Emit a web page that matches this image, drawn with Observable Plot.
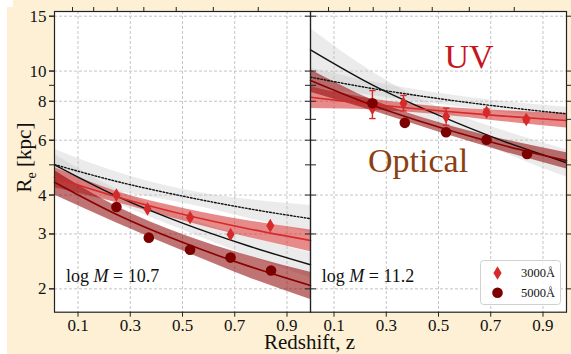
<!DOCTYPE html>
<html><head><meta charset="utf-8">
<script src="https://cdn.jsdelivr.net/npm/d3@7"></script>
<script src="https://cdn.jsdelivr.net/npm/@observablehq/plot@0.6"></script>
<style>
html,body{margin:0;padding:0;background:#fff;}
#wrap{position:relative;width:571px;height:354px;overflow:hidden;}
#bg{position:absolute;left:7px;top:0;width:564px;height:354px;background:#fdf0d4;}
#notch{position:absolute;left:7px;top:0;width:6px;height:7px;background:#fff;}
#chart{position:absolute;left:0;top:0;}
</style></head><body>
<div id="wrap"><div id="bg"></div><div id="notch"></div><div id="chart"></div></div>
<script>
// ---- categories / ticks ----
const panels = ["10.7", "11.2"];
const xTicks = [0.1, 0.3, 0.5, 0.7, 0.9];
const yTicks = [2, 3, 4, 6, 8, 10, 15];
const yMinorTicks = [5, 7, 9];
const lookbackTicksZ = [0.079, 0.160, 0.250, 0.352, 0.476, 0.618, 0.790];
const legendLabels = ["3000Å", "5000Å"];

// ---- measured points ----
const uvZ = [0.247, 0.366, 0.529, 0.684, 0.836];
const optZ = [0.247, 0.371, 0.529, 0.684, 0.839];
const uvLow = [4.00, 3.61, 3.39, 2.99, 3.19];
const optLow = [3.66, 2.92, 2.67, 2.52, 2.29];
const uvHigh = [7.60, 7.88, 7.15, 7.38, 6.99];
const uvHighErrLo = [7.04, 7.45, 6.70, 7.22, 6.86];
const uvHighErrHi = [8.66, 8.35, 7.60, 7.55, 7.12];
const optHigh = [7.88, 6.82, 6.36, 6.02, 5.42];

// ---- fitted curves (sampled) ----
const fitZ = [0.01, 0.25, 0.5, 0.75, 0.99];
// log M = 10.7
const solidLow = [5.00, 3.96, 3.25, 2.75, 2.39];
const solidLowLo = [4.60, 3.76, 3.09, 2.56, 2.17];
const solidLowHi = [5.40, 4.16, 3.41, 2.94, 2.61];
const dottedLow = [5.01, 4.42, 3.97, 3.62, 3.36];
const dottedLowLo = [4.41, 4.11, 3.77, 3.37, 3.02];
const dottedLowHi = [5.61, 4.73, 4.17, 3.87, 3.70];
const uvFitLow = [4.56, 3.94, 3.47, 3.12, 2.86];
const uvFitLowLo = [4.22, 3.78, 3.31, 2.93, 2.63];
const uvFitLowHi = [4.90, 4.10, 3.63, 3.31, 3.09];
const optFitLow = [4.40, 3.46, 2.82, 2.37, 2.05];
const optFitLowLo = [4.00, 3.25, 2.65, 2.18, 1.85];
const optFitLowHi = [4.80, 3.67, 2.99, 2.56, 2.26];
// log M = 11.2
const solidHigh = [11.7, 9.00, 7.22, 5.95, 5.08];
const solidHighLo = [9.9, 8.10, 6.79, 5.47, 4.57];
const solidHighHi = [13.7, 9.90, 7.65, 6.43, 5.59];
const dottedHigh = [9.56, 8.78, 8.16, 7.67, 7.29];
const dottedHighLo = [8.89, 8.34, 7.83, 7.36, 6.93];
const dottedHighHi = [10.23, 9.22, 8.49, 7.98, 7.65];
const uvFitHigh = [8.24, 7.81, 7.46, 7.17, 6.94];
const uvFitHighLo = [7.58, 7.50, 7.24, 6.88, 6.56];
const uvFitHighHi = [8.90, 8.12, 7.68, 7.46, 7.32];
const optFitHigh = [9.33, 7.75, 6.61, 5.77, 5.16];
const optFitHighLo = [8.55, 7.44, 6.38, 5.51, 4.85];
const optFitHighHi = [10.10, 8.06, 6.84, 6.03, 5.47];

// ---- build tables ----
const fitRows = (panel, series, mid, lo, hi) =>
  fitZ.map((z, i) => ({panel, series, z, mid: mid[i], lo: lo[i], hi: hi[i]}));
const solidRows = [...fitRows(panels[0], "solid", solidLow, solidLowLo, solidLowHi),
                   ...fitRows(panels[1], "solid", solidHigh, solidHighLo, solidHighHi)];
const dottedRows = [...fitRows(panels[0], "dotted", dottedLow, dottedLowLo, dottedLowHi),
                    ...fitRows(panels[1], "dotted", dottedHigh, dottedHighLo, dottedHighHi)];
const uvFitRows = [...fitRows(panels[0], "uv", uvFitLow, uvFitLowLo, uvFitLowHi),
                   ...fitRows(panels[1], "uv", uvFitHigh, uvFitHighLo, uvFitHighHi)];
const optFitRows = [...fitRows(panels[0], "opt", optFitLow, optFitLowLo, optFitLowHi),
                    ...fitRows(panels[1], "opt", optFitHigh, optFitHighLo, optFitHighHi)];
const greyRows = [...solidRows, ...dottedRows];

const uvPts = [...uvZ.map((z, i) => ({panel: panels[0], z, v: uvLow[i], lo: uvLow[i], hi: uvLow[i]})),
               ...uvZ.map((z, i) => ({panel: panels[1], z, v: uvHigh[i], lo: uvHighErrLo[i], hi: uvHighErrHi[i]}))];
const optPts = [...optZ.map((z, i) => ({panel: panels[0], z, v: optLow[i]})),
                ...optZ.map((z, i) => ({panel: panels[1], z, v: optHigh[i]}))];
const errPts = uvPts.filter(d => d.hi > d.lo);

// custom symbols
const thinDiamond = {draw(ctx, size) {
  const r = Math.sqrt(size / Math.PI);
  ctx.moveTo(0, -r); ctx.lineTo(r * 0.6, 0); ctx.lineTo(0, r); ctx.lineTo(-r * 0.6, 0); ctx.closePath();
}};
const capSymbol = {draw(ctx, size) {
  const r = Math.sqrt(size / Math.PI);
  ctx.moveTo(-r, 0); ctx.lineTo(r, 0);
}};

const RED = "#d42a2a", DARK = "#7c0000";
const gridStyle = {stroke: "#b5b5b5", strokeOpacity: 1, strokeDasharray: "3,2", strokeWidth: 0.8};
const allY = [...yTicks, ...yMinorTicks];
const serif = "'Liberation Serif', serif";

const chart = Plot.plot({
  width: 571, height: 354,
  marginLeft: 53, marginRight: 4.3, marginTop: 11, marginBottom: 42.3,
  style: {background: "transparent", fontFamily: serif, fontSize: "17px", color: "#111"},
  fx: {domain: panels, padding: 0, axis: null, label: null},
  x: {domain: [0.01, 0.99], label: null, axis: null},
  y: {type: "log", domain: [1.683, 15.53], label: null, axis: null},
  marks: [
    Plot.frame({fill: "white", stroke: "none"}),
    Plot.gridX(xTicks, gridStyle),
    Plot.gridY(yTicks, gridStyle),
    Plot.areaY(greyRows, {fx: "panel", x: "z", y1: "lo", y2: "hi", z: "series", fill: "#bdbdbd", fillOpacity: 0.3, curve: "monotone-x"}),
    Plot.areaY(uvFitRows, {fx: "panel", x: "z", y1: "lo", y2: "hi", fill: RED, fillOpacity: 0.55, curve: "monotone-x"}),
    Plot.areaY(optFitRows, {fx: "panel", x: "z", y1: "lo", y2: "hi", fill: "#8b0000", fillOpacity: 0.55, curve: "monotone-x"}),
    Plot.line(dottedRows, {fx: "panel", x: "z", y: "mid", stroke: "#111", strokeWidth: 1.4, strokeDasharray: "1.6,1.9", curve: "monotone-x"}),
    Plot.line(solidRows, {fx: "panel", x: "z", y: "mid", stroke: "#111", strokeWidth: 1.4, curve: "monotone-x"}),
    Plot.line(uvFitRows, {fx: "panel", x: "z", y: "mid", stroke: RED, strokeWidth: 1.6, curve: "monotone-x"}),
    Plot.line(optFitRows, {fx: "panel", x: "z", y: "mid", stroke: "#8b0000", strokeWidth: 1.6, curve: "monotone-x"}),
    Plot.ruleX(errPts, {fx: "panel", x: "z", y1: "lo", y2: "hi", stroke: RED, strokeWidth: 1.4}),
    Plot.dot(errPts, {fx: "panel", x: "z", y: "lo", symbol: capSymbol, r: 3.2, stroke: RED, strokeWidth: 1.4}),
    Plot.dot(errPts, {fx: "panel", x: "z", y: "hi", symbol: capSymbol, r: 3.2, stroke: RED, strokeWidth: 1.4}),
    Plot.dot(uvPts, {fx: "panel", x: "z", y: "v", symbol: thinDiamond, r: 6.8, fill: RED, stroke: "none"}),
    Plot.dot(optPts, {fx: "panel", x: "z", y: "v", r: 5.3, fill: DARK, stroke: "none"}),
    Plot.frame({stroke: "#222", strokeWidth: 1.2}),
    // ticks on every side of every panel
    Plot.axisY(allY, {anchor: "left", facetAnchor: null, tickSize: 5, fill: "none", stroke: "#222", label: null}),
    Plot.axisY(allY, {anchor: "right", facetAnchor: null, tickSize: 5, fill: "none", stroke: "#222", label: null}),
    Plot.axisX(lookbackTicksZ, {anchor: "top", facetAnchor: null, tickSize: 5, fill: "none", stroke: "#222", label: null}),
    Plot.axisY(yTicks, {anchor: "left", tickSize: 5, tickPadding: 3, tickFormat: d => String(d), stroke: "#222", fill: "#111", label: null}),
    Plot.axisX(xTicks, {anchor: "bottom", tickSize: 5, tickPadding: 2, tickFormat: d3.format(".1f"), stroke: "#222", fill: "#111", label: null})
  ]
});
document.getElementById("chart").appendChild(chart);

// ---- annotations ----
const svg = d3.select(chart);
const txt = (x, y, size, anchor, fill) => svg.append("text").attr("x", x).attr("y", y)
  .attr("font-family", serif).attr("font-size", size).attr("text-anchor", anchor).attr("fill", fill);

const yl = svg.append("text").attr("transform", "translate(30.5,157.5) rotate(-90)")
  .attr("text-anchor", "middle").attr("font-family", serif).attr("font-size", 21).attr("fill", "#111");
yl.append("tspan").text("R");
yl.append("tspan").attr("font-size", 14).attr("dy", 5).text("e");
yl.append("tspan").attr("dy", -5).text(" [kpc]");

txt(309.5, 349, 21, "middle", "#111").text("Redshift, z");

function logM(x, y, val) {
  const t = txt(x, y, 18, "start", "#111");
  t.append("tspan").text("log ");
  t.append("tspan").attr("font-style", "italic").text("M");
  t.append("tspan").text(" = " + val);
}
logM(66, 281.7, panels[0]);
logM(321.7, 281.7, panels[1]);

txt(469, 68, 34, "middle", "#c8141e").text("UV");
txt(368, 172, 34, "start", "#8b4010").text("Optical");

// legend
const lg = svg.append("g");
lg.append("rect").attr("x", 480.5).attr("y", 260.5).attr("width", 80).attr("height", 44).attr("rx", 3)
  .attr("fill", "white").attr("fill-opacity", 0.85).attr("stroke", "#d0d0d0");
lg.append("path").attr("d", d3.symbol(thinDiamond, 6.8 * 6.8 * Math.PI)()).attr("transform", "translate(497.5,273)").attr("fill", RED);
lg.append("circle").attr("cx", 497.5).attr("cy", 292.7).attr("r", 5.3).attr("fill", DARK);
txt(521, 277, 12.5, "start", "#111").text(legendLabels[0]);
txt(521, 297, 12.5, "start", "#111").text(legendLabels[1]);
</script>
</body></html>
